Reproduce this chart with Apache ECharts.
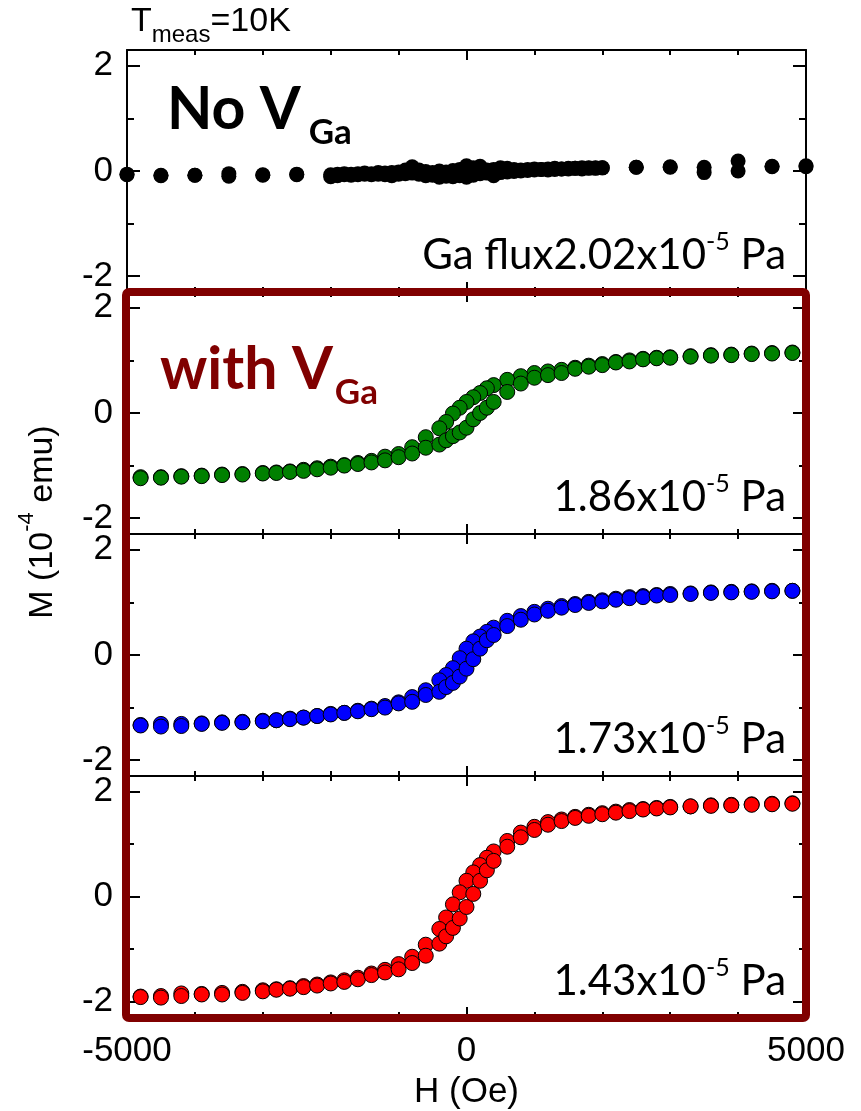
<!DOCTYPE html>
<html>
<head>
<meta charset="utf-8">
<script src="https://cdn.jsdelivr.net/npm/echarts@6/dist/echarts.min.js"></script>
<style>
  html, body { margin: 0; padding: 0; background: #ffffff; }
  #chart { width: 861px; height: 1111px; }
</style>
</head>
<body>
<div id="chart"></div>
<script>
// ---- Magnetization loops M(H) at 10 K, four Ga-flux conditions ----

// Field values (Oe) for the reference sample (no Ga vacancies)
const H_BLACK_DOWN = [5000,4500,4000,3500,3000,2500,2000,1900,1800,1700,1600,1500,1400,1300,1200,1100,1000,900,800,700,600,500,400,300,200,100,0,-100,-200,-300,-400,-500,-600,-700,-800,-900,-1000,-1100,-1200,-1300,-1400,-1500,-1600,-1700,-1800,-1900,-2000,-2500,-3000,-3500,-4000,-4500,-5000];
const H_BLACK_UP = [-5000,-4500,-4000,-3500,-3000,-2500,-2000,-1900,-1800,-1700,-1600,-1500,-1400,-1300,-1200,-1100,-1000,-900,-800,-700,-600,-500,-400,-300,-200,-100,0,100,200,300,400,500,600,700,800,900,1000,1100,1200,1300,1400,1500,1600,1700,1800,1900,2000,2500,3000,3500,4000,4500,5000];
const M_BLACK_DOWN = [0.10,0.08,0.19,-0.03,0.07,0.07,0.06,0.06,0.05,0.06,0.05,0.05,0.04,0.05,0.04,0.03,0.04,0.03,0.02,0.03,0.05,0.06,0.03,0.02,0.09,0.06,0.10,0.03,0.01,-0.02,0.00,-0.03,-0.01,0.02,0.08,0.02,-0.02,-0.03,-0.04,-0.03,-0.05,-0.04,-0.05,-0.06,-0.05,-0.06,-0.07,-0.06,-0.07,-0.05,-0.08,-0.08,-0.07];
const M_BLACK_UP = [-0.06,-0.09,-0.08,-0.10,-0.08,-0.07,-0.11,-0.09,-0.07,-0.08,-0.07,-0.06,-0.07,-0.06,-0.07,-0.09,-0.06,-0.05,-0.04,-0.06,-0.09,-0.08,-0.12,-0.10,-0.11,-0.09,-0.12,-0.08,-0.05,-0.04,-0.09,-0.03,-0.02,-0.01,0.00,0.01,0.02,0.03,0.02,0.03,0.04,0.04,0.05,0.04,0.06,0.05,0.06,0.07,0.08,0.07,0.00,0.09,0.08];

// Field values (Oe) for the samples with Ga vacancies
const H_DOWN = [4800,4500,4200,3900,3600,3300,3000,2800,2600,2400,2200,2000,1800,1600,1400,1200,1000,800,600,400,300,200,100,0,-100,-200,-300,-400,-600,-800,-1000,-1200,-1400,-1600,-1800,-2000,-2200,-2400,-2600,-2800,-3000,-3300,-3600,-3900,-4200,-4500,-4800];
const H_UP = [-4800,-4500,-4200,-3900,-3600,-3300,-3000,-2800,-2600,-2400,-2200,-2000,-1800,-1600,-1400,-1200,-1000,-800,-600,-400,-300,-200,-100,0,100,200,300,400,600,800,1000,1200,1400,1600,1800,2000,2200,2400,2600,2800,3000,3300,3600,3900,4200,4500,4800];

// Ga flux 1.86e-5 Pa
const M_GREEN_DOWN = [1.15,1.14,1.13,1.11,1.10,1.08,1.06, 1.05,1.03,1.00,0.97,0.93,0.90,0.86,0.82,0.79,0.76,0.70,0.63,0.53, 0.47,0.38,0.30,0.21,0.10,-0.01,-0.17, -0.29,-0.46,-0.65,-0.78,-0.83,-0.91,-0.95,-0.99,-1.02,-1.05,-1.08,-1.11,-1.13, -1.14,-1.16,-1.17,-1.19,-1.20,-1.22,-1.22];
const M_GREEN_UP = [-1.24,-1.23,-1.21,-1.20,-1.18,-1.17,-1.15, -1.14,-1.12,-1.10,-1.07,-1.04,-1.00,-0.97,-0.94,-0.90,-0.84,-0.77,-0.66,-0.60, -0.52,-0.44,-0.37,-0.28,-0.12,0.00,0.10, 0.21,0.40,0.56,0.67,0.72,0.76,0.84,0.88,0.91,0.96,0.98,1.02,1.04, 1.05,1.07,1.09,1.10,1.12,1.13,1.14];

// Ga flux 1.73e-5 Pa
const M_BLUE_DOWN = [1.22,1.22,1.21,1.20,1.19,1.17,1.16, 1.14,1.12,1.10,1.07,1.04,1.01,0.97,0.93,0.88,0.82,0.74,0.65,0.52, 0.44,0.35,0.26,0.12,-0.06,-0.25,-0.38, -0.48,-0.67,-0.80,-0.90,-0.97,-1.02,-1.06,-1.10,-1.12,-1.16,-1.19,-1.21,-1.24, -1.25,-1.27,-1.28,-1.30,-1.31,-1.31,-1.33];
const M_BLUE_UP = [-1.34,-1.36,-1.35,-1.31,-1.29,-1.28,-1.26, -1.24,-1.22,-1.19,-1.16,-1.13,-1.10,-1.07,-1.03,-1.00,-0.92,-0.89,-0.76,-0.70, -0.61,-0.53,-0.41,-0.26,-0.08,0.12,0.28, 0.38,0.55,0.67,0.77,0.84,0.90,0.95,0.99,1.02,1.05,1.08,1.10,1.13, 1.14,1.16,1.18,1.19,1.20,1.21,1.22];

// Ga flux 1.43e-5 Pa
const M_RED_DOWN = [1.78,1.77,1.76,1.75,1.74,1.72,1.71, 1.69,1.67,1.65,1.62,1.59,1.56,1.52,1.47,1.42,1.33,1.22,1.06,0.86, 0.74,0.60,0.46,0.30,0.08,-0.15,-0.40, -0.62,-0.92,-1.15,-1.29,-1.40,-1.47,-1.55,-1.60,-1.64,-1.68,-1.71,-1.75,-1.77, -1.79,-1.82,-1.84,-1.86,-1.85,-1.90,-1.91];
const M_RED_UP = [-1.92,-1.93,-1.90,-1.87,-1.87,-1.84,-1.81, -1.78,-1.76,-1.73,-1.70,-1.66,-1.63,-1.58,-1.50,-1.45,-1.39,-1.27,-1.13,-0.90, -0.76,-0.60,-0.42,-0.20,0.05,0.30,0.50, 0.68,0.95,1.13,1.27,1.37,1.44,1.50,1.54,1.57,1.60,1.63,1.66,1.68, 1.70,1.72,1.73,1.74,1.75,1.76,1.77];

// Axis ticks and labels
const X_MIN = -5000, X_MAX = 5000, X_STEP = 5000;
const Y_MIN = -2.3, Y_MAX = 2.3;
const Y_MAJOR = [-2, 0, 2];
const Y_MINOR = [-1, 1];

// Panel annotations
const FLUX_LABELS = [
  ['Ga flux2.02x10', '-5', ' Pa'],
  ['1.86x10', '-5', ' Pa'],
  ['1.73x10', '-5', ' Pa'],
  ['1.43x10', '-5', ' Pa']
];

// ---- layout ----
const LEFT = 127, RIGHT_EDGE = 806, TOP = 50, PANEL_H = 242, N_PANELS = 4;
const WIDTH = RIGHT_EDGE - LEFT;
const AXIS_FONT = 'Liberation Sans, Arial, sans-serif';
const TEXT_FONT = 'Lato, Carlito, sans-serif';
const DARK_RED = '#800000';

const panels = [
  { series: [[H_BLACK_DOWN, M_BLACK_DOWN], [H_BLACK_UP, M_BLACK_UP]], color: '#000000', border: 0, size: 15 },
  { series: [[H_DOWN, M_GREEN_DOWN], [H_UP, M_GREEN_UP]], color: '#008000', border: 1, size: 15 },
  { series: [[H_DOWN, M_BLUE_DOWN], [H_UP, M_BLUE_UP]], color: '#0000ff', border: 1, size: 15 },
  { series: [[H_DOWN, M_RED_DOWN], [H_UP, M_RED_UP]], color: '#ff0000', border: 1, size: 15 }
];

const grid = [], xAxis = [], yAxis = [], series = [];
const lineStyle = { color: '#000', width: 2 };

panels.forEach((p, i) => {
  grid.push({ left: LEFT, width: WIDTH, top: TOP + i * PANEL_H, height: PANEL_H, containLabel: false });
  const isLast = i === N_PANELS - 1;
  ['bottom', 'top'].forEach(pos => {
    const ax = {
      type: 'value', gridIndex: i, position: pos, min: X_MIN, max: X_MAX, interval: X_STEP,
      axisLine: { show: true, onZero: false, lineStyle },
      axisTick: { show: true, inside: true, length: 10, lineStyle },
      minorTick: { show: true, splitNumber: 5, length: 5, lineStyle: { color: '#000', width: 2 } },
      splitLine: { show: false },
      axisLabel: { show: false }
    };
    if (isLast && pos === 'bottom') {
      ax.axisLabel = { show: true, fontSize: 35, fontFamily: AXIS_FONT, color: '#000', margin: 17,
        showMinLabel: true, showMaxLabel: true, formatter: v => String(v) };
      ax.name = 'H (Oe)';
      ax.nameLocation = 'middle';
      ax.nameGap = 58;
      ax.nameTextStyle = { fontSize: 35, fontFamily: AXIS_FONT, color: '#000' };
    }
    xAxis.push(ax);
  });
  const yBase = { type: 'value', gridIndex: i, min: Y_MIN, max: Y_MAX, splitLine: { show: false } };
  // left: major ticks with labels, then minor ticks; right side mirrors them
  ['left', 'right'].forEach(pos => {
    yAxis.push(Object.assign({}, yBase, {
      position: pos,
      axisLine: { show: true, onZero: false, lineStyle },
      axisTick: { show: true, inside: true, length: 13, lineStyle, customValues: Y_MAJOR },
      axisLabel: pos === 'left'
        ? { show: true, customValues: Y_MAJOR, fontSize: 35, fontFamily: AXIS_FONT, color: '#000', margin: 14 }
        : { show: false }
    }));
    yAxis.push(Object.assign({}, yBase, {
      position: pos,
      axisLine: { show: false, onZero: false },
      axisTick: { show: true, inside: true, length: 7, lineStyle, customValues: Y_MINOR },
      axisLabel: { show: false }
    }));
  });

  p.series.forEach(([hs, ms]) => {
    series.push({
      type: 'scatter',
      xAxisIndex: i * 2,
      yAxisIndex: i * 4,
      symbol: 'circle',
      symbolSize: p.size,
      data: hs.map((h, k) => [h, ms[k]]),
      itemStyle: { color: p.color, borderColor: '#000', borderWidth: p.border, opacity: 1 },
      emphasis: { disabled: true }
    });
  });
});

// ---- annotations ----
const graphic = [];

// measurement temperature, top left
graphic.push({
  type: 'text', x: 131, y: -4, z: 50,
  style: {
    text: '{a|T}{s|meas}{a|=10K}',
    verticalAlign: 'top', align: 'left',
    rich: {
      a: { fontSize: 34, fontFamily: AXIS_FONT, fill: '#000', lineHeight: 51, verticalAlign: 'middle' },
      s: { fontSize: 24, fontFamily: AXIS_FONT, fill: '#000', lineHeight: 51, verticalAlign: 'bottom' }
    }
  }
});

// sample headings
function heading(text, x, y, color, gap) {
  return {
    type: 'text', x, y, z: 50,
    style: {
      text: '{a|' + text + '}{s|Ga}',
      verticalAlign: 'top', align: 'left',
      rich: {
        a: { fontSize: 59, fontFamily: TEXT_FONT, fontWeight: 'bold', fill: color, lineHeight: 80, verticalAlign: 'middle' },
        s: { fontSize: 35, fontFamily: TEXT_FONT, fontWeight: 'bold', fill: color, lineHeight: 80, verticalAlign: 'bottom', padding: [0, 0, 0, gap] }
      }
    }
  };
}
graphic.push(heading('No V', 167, 70, '#000', 8));
graphic.push(heading('with V', 160, 330, DARK_RED, 2));

// Ga flux labels, lower right of each panel
FLUX_LABELS.forEach((parts, i) => {
  graphic.push({
    type: 'text', x: 786, y: 229 + i * PANEL_H, z: 50,
    style: {
      text: '{a|' + parts[0] + '}{s|' + parts[1] + '}{a|' + parts[2] + '}',
      align: 'right', verticalAlign: 'top',
      rich: {
        a: { fontSize: 42, fontFamily: TEXT_FONT, fill: '#000', lineHeight: 52, verticalAlign: 'middle' },
        s: { fontSize: 25, fontFamily: TEXT_FONT, fill: '#000', lineHeight: 25, verticalAlign: 'top' }
      }
    }
  });
});

// y axis title, shared by all panels
graphic.push({
  type: 'text', x: 38, y: 522, rotation: Math.PI / 2, z: 50,
  style: {
    text: '{a|M (10}{s|-4}{a| emu)}',
    align: 'center', verticalAlign: 'middle',
    rich: {
      a: { fontSize: 34, fontFamily: AXIS_FONT, fill: '#000', lineHeight: 44, verticalAlign: 'bottom' },
      s: { fontSize: 22, fontFamily: AXIS_FONT, fill: '#000', lineHeight: 22, verticalAlign: 'top' }
    }
  }
});

// frame around the three panels grown with Ga vacancies
graphic.push({
  type: 'rect', z: 100,
  shape: { x: LEFT - 1, y: TOP + PANEL_H, width: WIDTH + 1, height: PANEL_H * 3, r: 3 },
  style: { fill: 'none', stroke: DARK_RED, lineWidth: 8 }
});

const chart = echarts.init(document.getElementById('chart'), null, { renderer: 'canvas' });
chart.setOption({
  backgroundColor: '#ffffff',
  animation: false,
  grid, xAxis, yAxis, series, graphic
});
</script>
</body>
</html>
